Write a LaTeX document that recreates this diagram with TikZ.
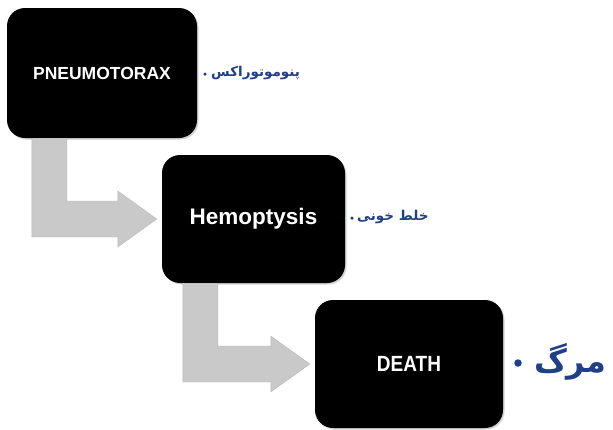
\documentclass[tikz,border=0pt]{standalone}
\usepackage{fontspec}
\setmainfont{Liberation Sans}
\newfontfamily\arabicfont[Script=Arabic]{DejaVu Sans}
\TeXXeTstate=1
\usetikzlibrary{calc,shadows}
\definecolor{lblblue}{HTML}{1F3F86}
\definecolor{arrgray}{HTML}{C9C9C9}
\tikzset{
  box/.style={draw=none, fill=black, rounded corners=18pt, minimum width=#1, inner sep=0pt,
    text=white, font=\bfseries, drop shadow={opacity=0.35, shadow xshift=1.5pt, shadow yshift=-1.5pt}},
  lbl/.style={text=lblblue, inner sep=0pt, anchor=west},
  bul/.style={circle, fill=lblblue, inner sep=0pt, minimum size=#1},
  larrow/.style={fill=arrgray, draw=gray!55, line width=0.4pt, line join=miter},
}
\newcommand{\lconn}[4]{% from, to, x offset of bar, bar width
  \path let \p1=(#1.south west), \p2=(#2.west) in
    [larrow] (\x1+#3,\y1) -- (\x1+#3+#4,\y1) -- (\x1+#3+#4,\y2+18) -- (\x2-44,\y2+18)
    -- (\x2-44,\y2+28) -- (\x2-5,\y2) -- (\x2-44,\y2-28) -- (\x2-44,\y2-18)
    -- (\x1+#3,\y2-18) -- cycle;
}
\begin{document}
\begin{tikzpicture}[x=1pt,y=1pt]
\useasboundingbox (0,0) rectangle (613,-429);
% boxes
\node[box=190pt, minimum height=130pt] (b1) at (102,-73)
  {\fontsize{17.5}{20}\selectfont PNEUMOTORAX};
\node[box=183pt, minimum height=128pt] (b2) at (253.5,-219)
  {\fontsize{22.5}{26}\selectfont Hemoptysis};
\node[box=188pt, minimum height=128pt] (b3) at (409,-364)
  {\fontsize{20}{24}\selectfont\scalebox{0.95}[1.1]{DEATH}};
% connectors
\lconn{b1}{b2}{25}{35}
\lconn{b2}{b3}{21}{35}
% labels
\node[bul=3.5pt] (d1) at (205,-74) {};
\node[lbl] (l1) at (211,-73) {\arabicfont\bfseries\fontsize{13.5}{15}\selectfont\beginR پنوموتوراکس\endR};
\node[bul=3.5pt] (d2) at (352,-218) {};
\node[lbl] (l2) at (357,-217) {\arabicfont\bfseries\fontsize{13.5}{15}\selectfont\beginR خلط خونی\endR};
\node[bul=7.5pt] (d3) at (518,-363) {};
\node[lbl] (l3) at (534,-362) {\arabicfont\bfseries\fontsize{32}{35}\selectfont\beginR مرگ\endR};
\end{tikzpicture}
\end{document}
